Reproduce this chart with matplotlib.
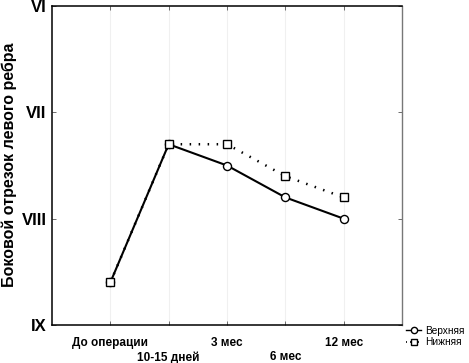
import matplotlib
matplotlib.use("Agg")
import matplotlib.pyplot as plt
from matplotlib.lines import Line2D

categories = ["До операции", "10-15 дней", "3 мес", "6 мес", "12 мес"]
upper = [8.6, 7.3, 7.5, 7.8, 8.0]   # Верхняя
lower = [8.6, 7.3, 7.3, 7.6, 7.8]   # Нижняя
ytick_vals = [6, 7, 8, 9]
ytick_labels = ["VI", "VII", "VIII", "IX"]
series_names = ["Верхняя", "Нижняя"]
ylabel = "Боковой отрезок левого ребра"

plt.rcParams['font.family'] = ['Liberation Sans', 'DejaVu Sans']

fig = plt.figure(figsize=(4.69, 3.63), dpi=100)
ax = fig.add_axes([52/469, 1-325/363, 350/469, 319/363])

x = list(range(len(categories)))
ax.plot(x, upper, color='black', lw=1.5, ls='-', marker='o', ms=5.8,
        mfc='white', mec='black', mew=1.0, zorder=3)
ax.plot(x, lower, color='black', lw=1.8, ls=(0, (0.6, 3.0)), marker='s', ms=5.6,
        mfc='white', mec='black', mew=1.0, zorder=4)

ax.set_xlim(-1, 5)
ax.set_ylim(9, 6)
ax.set_yticks(ytick_vals)
ax.set_yticklabels(ytick_labels, fontsize=12, fontweight='bold')
ax.set_xticks(x)
ax.set_xticklabels(categories, fontsize=8.5, fontweight='bold')
ax.tick_params(axis='both', direction='in', length=3, width=0.6, top=True, right=True,
               colors='#555555', labelcolor='black')
ax.tick_params(axis='y', pad=4)
for i, t in enumerate(ax.xaxis.get_major_ticks()):
    t.set_pad(8.5 if i % 2 == 0 else 19.0)
ax.grid(axis='x', color='#f0f0f0', lw=0.8)

for s in ['left', 'bottom', 'top']:
    ax.spines[s].set_color('black')
    ax.spines[s].set_linewidth(1.1)
ax.spines['right'].set_color('#777777')
ax.spines['right'].set_linewidth(1.0)

fig.text(9/469, 1-165/363, ylabel, rotation=90, ha='center', va='center',
         fontsize=11.5, fontweight='bold')

handles = [
    Line2D([], [], color='black', lw=1.0, ls='-', marker='o', ms=4.5, mfc='white', mec='black'),
    Line2D([], [], color='black', lw=1.2, ls=(0, (0.6, 1.8)), marker='s', ms=4.5, mfc='white', mec='black'),
]
fig.legend(handles, series_names, loc='center left', bbox_to_anchor=(405/469, 1-336.5/363),
           frameon=False, fontsize=7.3, handlelength=1.5, handletextpad=0.4,
           labelspacing=0.15, borderpad=0.1, borderaxespad=0)

fig.savefig("out.png", dpi=100)
